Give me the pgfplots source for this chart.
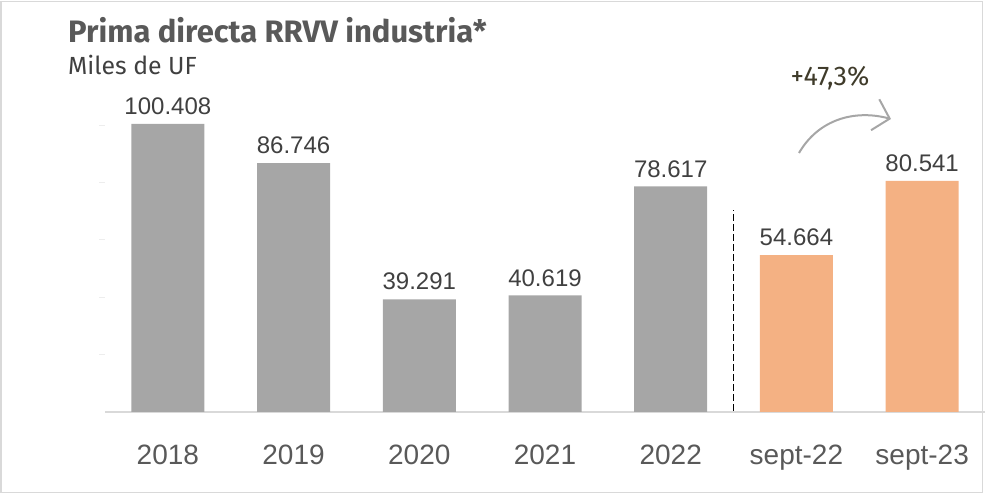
\documentclass[border=0pt]{standalone}
\usepackage{pgfplots}
\pgfplotsset{compat=1.18}
\usepackage{fontspec}
\setmainfont{Fira Sans}
\newfontfamily\arial{Liberation Sans}
\usetikzlibrary{arrows.meta}
\definecolor{barg}{HTML}{A6A6A6}
\definecolor{baro}{HTML}{F4B183}
\definecolor{txt}{HTML}{404040}
\definecolor{tickc}{HTML}{595959}
\definecolor{framec}{HTML}{D9D9D9}
\definecolor{faint}{HTML}{EDEDED}
\definecolor{olive}{HTML}{3F3B2A}
\begin{document}
\begin{tikzpicture}[x=1pt,y=1pt]
\useasboundingbox (0,0) rectangle (986,494);
\draw[framec, line width=1.2pt] (1,1.5) rectangle (982.5,492.5);
\node[anchor=base west, inner sep=0pt, font=\fontsize{31}{32}\selectfont\bfseries, text=tickc] at (68,451) {Prima directa RRVV industria*};
\node[anchor=base west, inner sep=0pt, font=\fontsize{24.8}{26}\selectfont, text=txt] at (68,419) {Miles de UF};
\begin{axis}[
  at={(105pt,82pt)}, anchor=south west,
  scale only axis, width=880pt, height=344.2pt,
  xmin=-0.5, xmax=6.5, ymin=0, ymax=120,
  axis y line=left, axis x line=bottom,
  y axis line style={draw=none},
  ytick={20,40,60,80,100}, yticklabels={},
  ytick style={faint, line width=1pt},
  ytick align=outside, major tick length=6pt,
  x axis line style={-, framec, line width=1.2pt},
  xtick={0,...,6},
  xticklabels={2018,2019,2020,2021,2022,sept-22,sept-23},
  xtick style={draw=none},
  xticklabel style={font=\arial\fontsize{28}{28}\selectfont, text=tickc, anchor=base, inner sep=0pt, yshift=-47pt},
  ybar, bar width=73pt, bar shift=0pt, clip=false,
  nodes near coords, point meta=explicit symbolic,
  nodes near coords style={font=\arial\fontsize{24}{24}\selectfont, text=txt, inner sep=0pt, anchor=south, yshift=9pt},
]
\addplot[fill=barg, draw=none] coordinates {
  (0,100.408) [100.408]
  (1,86.746) [86.746]
  (2,39.291) [39.291]
  (3,40.619) [40.619]
  (4,78.617) [78.617]
};
\addplot[fill=baro, draw=none] coordinates {
  (5,54.664) [54.664]
  (6,80.541) [80.541]
};
\draw[black, line width=1.5pt, dash pattern=on 6.5pt off 3.5pt] (axis cs:4.5,0.5) -- (axis cs:4.5,70.4);
\end{axis}
\draw[barg, line width=2pt, -{Straight Barb[length=15pt,width=32pt]}] (799,341) to[out=60,in=165] (891,375);
\node[font=\fontsize{27}{28}\selectfont, text=olive, inner sep=0pt] at (830,416) {+47,3\%};
\end{tikzpicture}
\end{document}
